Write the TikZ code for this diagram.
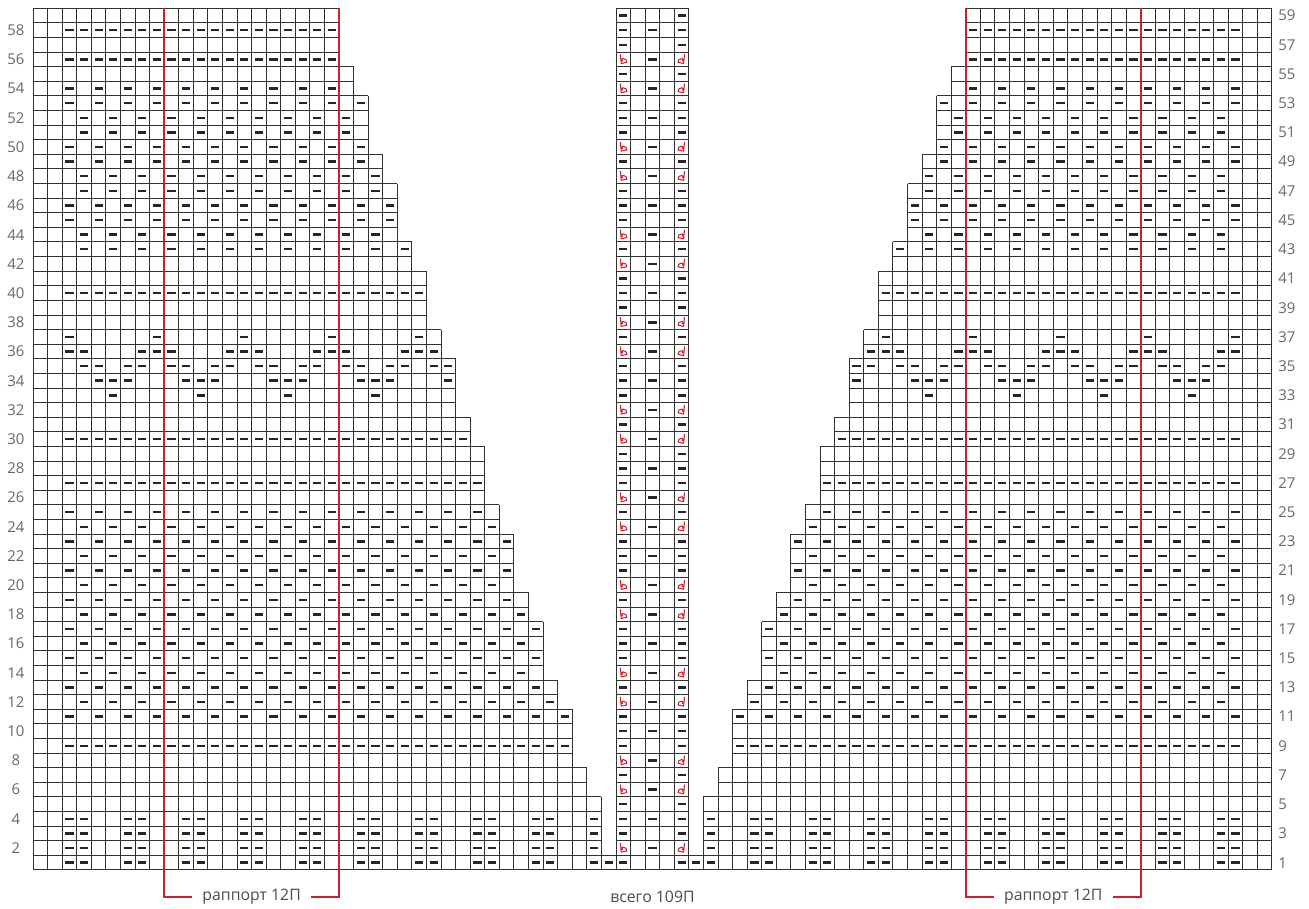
\documentclass[tikz,border=0pt]{standalone}
\usepackage{fontspec}
\setmainfont{Open Sans}

\definecolor{gridcol}{RGB}{50,50,50}
\definecolor{repred}{RGB}{205,32,45}
\definecolor{numgray}{RGB}{105,105,105}

% number of cells in each side panel, rows 1..59 (index 0 unused)
\def\rowW{{0,40,39,39,39,39,38,38,37,37,37,37,36,36,35,35,35,35,34,34,33,33,33,33,32,32,31,31,31,31,30,30,29,29,29,29,28,28,27,27,27,27,26,26,25,25,25,25,24,24,23,23,23,23,22,22,21,21,21,21}}

\tikzset{
  cellgrid/.style={draw=gridcol, line width=0.55pt},
  purlbar/.style={draw=black!85, line width=1.4pt},
  repline/.style={draw=repred, line width=1.3pt},
  twist/.style={draw=repred, line width=0.6pt, line join=round},
  rownum/.style={text=numgray, font=\fontsize{8.5}{9}\selectfont, inner sep=0pt},
  reptext/.style={text=black!70, font=\fontsize{9}{10}\selectfont, inner xsep=0.2cm, inner ysep=0pt}
}

% purl bars in row #1 from column #2 on, every #3 cells; mirrored on the right panel
\newcommand{\purls}[3]{%
  \pgfmathtruncatemacro{\lastc}{\rowW[#1]-1}
  \pgfmathtruncatemacro{\nextc}{#2+#3}
  \foreach \c in {#2,\nextc,...,\lastc}{
    \draw[purlbar] (\c+0.22,#1-0.5) -- (\c+0.78,#1-0.5);
    \draw[purlbar] (84.22-\c,#1-0.5) -- (84.78-\c,#1-0.5);
  }}

% red increase mark in the cell with left edge #1, row #2; #3 = 1 or -1 (mirror)
\newcommand{\twistmark}[3]{%
  \draw[twist, shift={(#1,#2-1)}, xscale=#3]
    (0.30,0.85) -- (0.36,0.22) -- (0.74,0.30)
    .. controls (0.80,0.42) and (0.62,0.60) .. (0.46,0.56)
    .. controls (0.36,0.52) and (0.38,0.40) .. (0.47,0.38);
}

\begin{document}
\begin{tikzpicture}[xscale=0.2915, yscale=0.2921]

\fill[white] (-2.264,-2.670) rectangle (87.547,59.568);
\useasboundingbox (-2.264,-2.670) rectangle (87.547,59.568);

% side panels
\foreach \r in {1,...,59}{
  \pgfmathtruncatemacro{\w}{\rowW[\r]}
  \pgfmathtruncatemacro{\wr}{85-\w}
  \draw[cellgrid] (0,\r-1) grid (\w,\r);
  \draw[cellgrid] (\wr,\r-1) grid (85,\r);
}
% centre panel
\draw[cellgrid] (40,0) grid (45,59);

% rib, rows 1-4
\foreach \r in {1,...,4}{\purls{\r}{2}{4}\purls{\r}{3}{4}}
% purl rows
\foreach \r in {9,27,30,40,56,58}{\purls{\r}{2}{1}}
% moss
\foreach \r in {11,13,...,25}{\purls{\r}{2}{2}}
\foreach \r in {12,14,...,24}{\purls{\r}{3}{2}}
\foreach \r in {45,46,49,50,53,54}{\purls{\r}{2}{2}}
\foreach \r in {43,44,47,48,51,52}{\purls{\r}{3}{2}}
% zigzag, rows 33-37
\purls{33}{5}{6}
\purls{34}{4}{6}\purls{34}{5}{6}\purls{34}{6}{6}
\purls{35}{3}{3}\purls{35}{4}{3}
\purls{36}{2}{6}\purls{36}{3}{6}\purls{36}{7}{6}
\purls{37}{2}{6}

% centre panel stitches
\foreach \r in {1,3,...,59,4,10,...,58}{
  \draw[purlbar] (40.22,\r-0.5) -- (40.78,\r-0.5);
  \draw[purlbar] (44.22,\r-0.5) -- (44.78,\r-0.5);
}
\foreach \r in {2,4,...,58}{
  \draw[purlbar] (42.22,\r-0.5) -- (42.78,\r-0.5);
}
\foreach \r in {2,6,12,...,54,8,14,...,56}{
  \twistmark{40}{\r}{1}
  \twistmark{45}{\r}{-1}
}

% row numbers
\foreach \r in {2,4,...,58}{
  \node[rownum] (nL\r) at (-1.17,\r-0.5) {\r};
}
\foreach \r in {1,3,...,59}{
  \node[rownum, anchor=west] (nR\r) at (85.42,\r-0.5) {\r};
}

% repeats
\node[reptext] (repL) at (15,-1.83) {раппорт 12П};
\node[reptext] (repR) at (70,-1.83) {раппорт 12П};
\node[reptext] (total) at (42.5,-1.83) {всего 109П};
\draw[repline] (9,59) |- (repL.west);
\draw[repline] (21,59) |- (repL.east);
\draw[repline] (64,59) |- (repR.west);
\draw[repline] (76,59) |- (repR.east);

\end{tikzpicture}
\end{document}
